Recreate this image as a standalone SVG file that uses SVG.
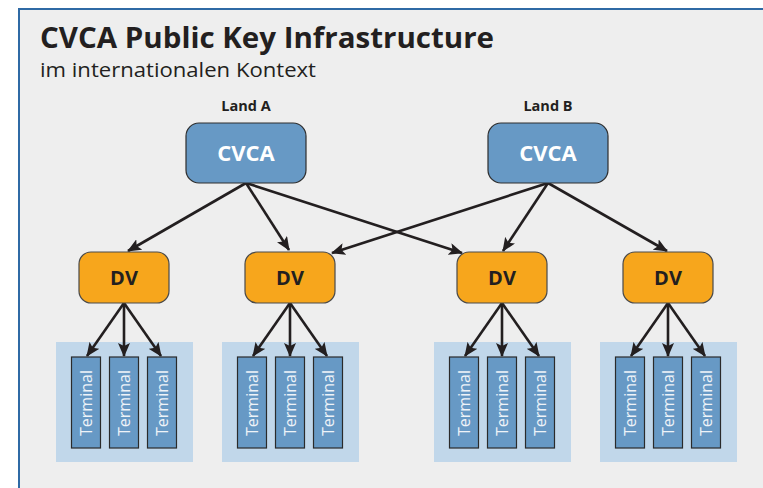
<svg xmlns="http://www.w3.org/2000/svg" width="763" height="488" viewBox="0 0 763 488">
  <style>
    .panel { fill: #eeeeee; }
    .edge { stroke: #2f6aa5; stroke-width: 2; fill: none; }
    .title { font-family: "Open Sans", "Noto Sans", sans-serif; font-weight: 700; font-size: 28px; fill: #231f20; }
    .sub { font-family: "Open Sans", "Noto Sans", sans-serif; font-size: 20px; fill: #231f20; }
    .land { font-family: "Open Sans", "Noto Sans", sans-serif; font-weight: 700; font-size: 14.5px; fill: #231f20; text-anchor: middle; }
    .cvca rect { fill: #6799c5; stroke: #2e2e2e; stroke-width: 1.2; }
    .cvca text { font-family: "Open Sans", "Noto Sans", sans-serif; font-weight: 700; font-size: 22px; fill: #ffffff; text-anchor: middle; }
    .dv rect { fill: #f7a61c; stroke: #4a4a4a; stroke-width: 1.2; }
    .dv text { font-family: "Open Sans", "Noto Sans", sans-serif; font-weight: 700; font-size: 20px; fill: #231f20; text-anchor: middle; }
    .pool { fill: #c1d7ea; }
    .term rect { fill: #6799c5; stroke: #2a2a2a; stroke-width: 1.2; }
    .term text { font-family: "Open Sans", "Noto Sans", sans-serif; font-size: 16px; fill: #eef3f8; text-anchor: middle; }
    .link { stroke: #231f20; stroke-width: 2.6; fill: none; marker-end: url(#tip); }
  </style>
  <defs>
    <marker id="tip" viewBox="0 0 14 12" refX="13" refY="6" markerWidth="14" markerHeight="12" markerUnits="userSpaceOnUse" orient="auto">
      <path d="M0,0 L14,6 L0,12 L3,6 Z" fill="#231f20"/>
    </marker>
    <g id="terminal" class="term">
      <rect x="-14.5" y="0" width="29" height="91"/>
      <text transform="translate(6,46) rotate(-90)">Terminal</text>
    </g>
  </defs>

  <!-- frame -->
  <rect x="0" y="0" width="763" height="488" fill="#ffffff"/>
  <rect class="panel" x="19" y="9" width="744" height="479"/>
  <path class="edge" d="M19,488 L19,9 L763,9"/>

  <!-- heading -->
  <text class="title" x="40" y="48" textLength="454" lengthAdjust="spacingAndGlyphs">CVCA Public Key Infrastructure</text>
  <text class="sub" x="40" y="77" textLength="276" lengthAdjust="spacingAndGlyphs">im internationalen Kontext</text>
  <text class="land" x="246" y="111">Land A</text>
  <text class="land" x="548" y="111">Land B</text>

  <!-- terminal pools -->
  <g id="pools">
    <rect class="pool" x="56" y="342" width="137" height="120"/>
    <rect class="pool" x="222" y="342" width="137" height="120"/>
    <rect class="pool" x="434" y="342" width="137" height="120"/>
    <rect class="pool" x="600" y="342" width="137" height="120"/>
  </g>

  <!-- connectors -->
  <g id="connectors">
    <line class="link" x1="246" y1="183" x2="128" y2="251"/>
    <line class="link" x1="246" y1="183" x2="289" y2="250"/>
    <line class="link" x1="246" y1="183" x2="462" y2="253"/>
    <line class="link" x1="548" y1="183" x2="332" y2="253"/>
    <line class="link" x1="548" y1="183" x2="503" y2="251"/>
    <line class="link" x1="548" y1="183" x2="667" y2="251"/>

    <line class="link" x1="124" y1="303" x2="87" y2="356"/>
    <line class="link" x1="124" y1="303" x2="124" y2="356"/>
    <line class="link" x1="124" y1="303" x2="161" y2="356"/>

    <line class="link" x1="290" y1="303" x2="253" y2="356"/>
    <line class="link" x1="290" y1="303" x2="290" y2="356"/>
    <line class="link" x1="290" y1="303" x2="327" y2="356"/>

    <line class="link" x1="502" y1="303" x2="465" y2="356"/>
    <line class="link" x1="502" y1="303" x2="502" y2="356"/>
    <line class="link" x1="502" y1="303" x2="539" y2="356"/>

    <line class="link" x1="668" y1="303" x2="631" y2="356"/>
    <line class="link" x1="668" y1="303" x2="668" y2="356"/>
    <line class="link" x1="668" y1="303" x2="705" y2="356"/>
  </g>

  <!-- certificate authorities -->
  <g id="cvca-a" class="cvca">
    <rect x="186" y="123" width="120" height="60" rx="13"/>
    <text x="246" y="161">CVCA</text>
  </g>
  <g id="cvca-b" class="cvca">
    <rect x="488" y="123" width="120" height="60" rx="13"/>
    <text x="548" y="161">CVCA</text>
  </g>

  <!-- document verifiers -->
  <g id="dv-1" class="dv">
    <rect x="79" y="252" width="90" height="51" rx="12"/>
    <text x="124" y="285">DV</text>
  </g>
  <g id="dv-2" class="dv">
    <rect x="245" y="252" width="90" height="51" rx="12"/>
    <text x="290" y="285">DV</text>
  </g>
  <g id="dv-3" class="dv">
    <rect x="457" y="252" width="90" height="51" rx="12"/>
    <text x="502" y="285">DV</text>
  </g>
  <g id="dv-4" class="dv">
    <rect x="623" y="252" width="90" height="51" rx="12"/>
    <text x="668" y="285">DV</text>
  </g>

  <!-- terminals -->
  <g id="terminals-1">
    <use href="#terminal" x="86" y="357"/>
    <use href="#terminal" x="124" y="357"/>
    <use href="#terminal" x="162" y="357"/>
  </g>
  <g id="terminals-2">
    <use href="#terminal" x="252" y="357"/>
    <use href="#terminal" x="290" y="357"/>
    <use href="#terminal" x="328" y="357"/>
  </g>
  <g id="terminals-3">
    <use href="#terminal" x="464" y="357"/>
    <use href="#terminal" x="502" y="357"/>
    <use href="#terminal" x="540" y="357"/>
  </g>
  <g id="terminals-4">
    <use href="#terminal" x="630" y="357"/>
    <use href="#terminal" x="668" y="357"/>
    <use href="#terminal" x="706" y="357"/>
  </g>
</svg>
